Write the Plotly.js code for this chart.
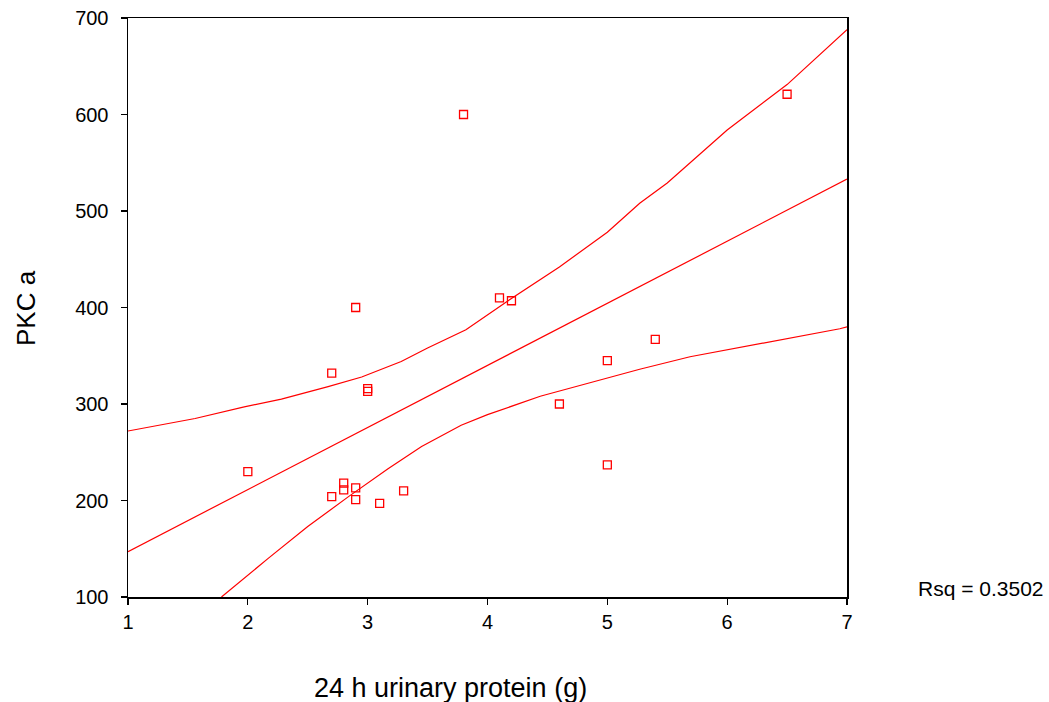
<!DOCTYPE html>
<html>
<head>
<meta charset="utf-8">
<script src="https://cdn.plot.ly/plotly-3.0.1.min.js"></script>
<style>html,body{margin:0;padding:0;background:#fff;}#chart{width:1049px;height:702px;}</style>
</head>
<body>
<div id="chart"></div>
<script>
// Observed data: 24 h urinary protein (g) vs PKC a
var proteinX = [2.0, 2.7, 2.9, 3.0, 3.0, 3.8, 4.1, 4.2, 4.6, 5.0, 5.0, 5.4, 6.5, 2.7, 2.8, 2.8, 2.9, 2.9, 3.1, 3.3];
var pkcY     = [230, 332, 400, 316, 313, 600, 410, 407, 300, 345, 237, 367, 621, 204, 218, 211, 213, 201, 197, 210];

// Fitted regression line
var fitX = [1, 7];
var fitY = [147, 533];

// Upper confidence band
var upperX = [1, 1.56, 1.97, 2.28, 2.67, 2.95, 3.28, 3.5, 3.82, 4.16, 4.6, 5, 5.27, 5.5, 6, 6.5, 7];
var upperY = [272, 285, 297, 305, 318, 328, 344, 358, 377, 406, 442, 478, 508, 529, 584, 631, 688];

// Lower confidence band
var lowerX = [1.78, 2.0, 2.17, 2.5, 2.84, 3.17, 3.45, 3.78, 4.0, 4.44, 5, 5.27, 5.69, 6, 6.5, 6.94, 7];
var lowerY = [100, 123, 140, 173, 204, 233, 256, 278, 289, 308, 327, 336, 349, 356, 368, 378, 380];

var xTicks = [1, 2, 3, 4, 5, 6, 7];
var yTicks = [100, 200, 300, 400, 500, 600, 700];

var red = '#ff0000';
var font = 'Liberation Sans, Arial, Helvetica, sans-serif';

var traces = [
  {x: upperX, y: upperY, mode: 'lines', line: {color: red, width: 1.2}, hoverinfo: 'skip'},
  {x: lowerX, y: lowerY, mode: 'lines', line: {color: red, width: 1.2}, hoverinfo: 'skip'},
  {x: fitX, y: fitY, mode: 'lines', line: {color: red, width: 1.2}, hoverinfo: 'skip'},
  {x: proteinX, y: pkcY, mode: 'markers', type: 'scatter',
   marker: {symbol: 'square-open', size: 8, color: red, line: {color: red, width: 1.3}}}
];

var layout = {
  width: 1049, height: 702,
  margin: {l: 128, r: 202, t: 18, b: 105},
  paper_bgcolor: '#ffffff', plot_bgcolor: '#ffffff',
  showlegend: false,
  font: {family: font, color: '#000', size: 20},
  xaxis: {
    range: [1, 7], tickvals: xTicks, ticktext: xTicks.map(String),
    showgrid: false, zeroline: false,
    showline: true, linecolor: '#000', linewidth: 1.5, mirror: true,
    ticks: 'outside', ticklen: 6, tickcolor: '#000', tickwidth: 1.2,
    tickfont: {size: 20, family: font}, fixedrange: true
  },
  yaxis: {
    range: [100, 700], tickvals: yTicks, ticktext: yTicks.map(String),
    showgrid: false, zeroline: false,
    showline: true, linecolor: '#000', linewidth: 1.5, mirror: true,
    ticks: 'outside', ticklen: 6, tickcolor: '#000', tickwidth: 1.2,
    ticklabelstandoff: 8,
    tickfont: {size: 20, family: font}, fixedrange: true
  },
  annotations: [
    {text: '24 h urinary protein (g)', xref: 'paper', yref: 'paper',
     x: (450 - 128) / 719, y: -(688 - 597) / 579, xanchor: 'center', yanchor: 'middle',
     showarrow: false, font: {size: 27, family: font}},
    {text: 'PKC a', xref: 'paper', yref: 'paper',
     x: -(128 - 26) / 719, y: (597 - 308) / 579, xanchor: 'center', yanchor: 'middle',
     textangle: -90, showarrow: false, font: {size: 26, family: font}},
    {text: 'Rsq = 0.3502', xref: 'paper', yref: 'paper',
     x: (916 - 128) / 719, y: (597 - 588) / 579, xanchor: 'left', yanchor: 'middle',
     showarrow: false, font: {size: 21, family: font}}
  ]
};

Plotly.newPlot('chart', traces, layout, {staticPlot: true, displayModeBar: false});
</script>
</body>
</html>
